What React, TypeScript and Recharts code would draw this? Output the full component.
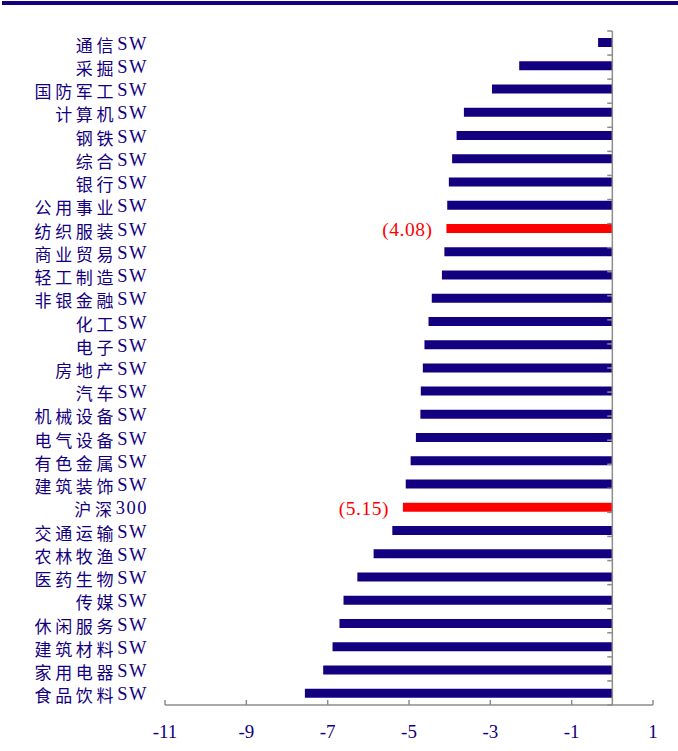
import React from "react"
import { Bar, BarChart, Cell, LabelList, ReferenceLine, XAxis, YAxis } from "recharts"

const categories = [
  "通信SW", "采掘SW", "国防军工SW", "计算机SW", "钢铁SW", "综合SW", "银行SW", "公用事业SW",
  "纺织服装SW", "商业贸易SW", "轻工制造SW", "非银金融SW", "化工SW", "电子SW", "房地产SW",
  "汽车SW", "机械设备SW", "电气设备SW", "有色金属SW", "建筑装饰SW", "沪深300", "交通运输SW",
  "农林牧渔SW", "医药生物SW", "传媒SW", "休闲服务SW", "建筑材料SW", "家用电器SW", "食品饮料SW",
]

const values = [
  -0.35, -2.29, -2.96, -3.65, -3.83, -3.94, -4.02, -4.06,
  -4.08, -4.13, -4.19, -4.44, -4.52, -4.62, -4.66,
  -4.71, -4.72, -4.83, -4.96, -5.08, -5.15, -5.41,
  -5.87, -6.27, -6.61, -6.71, -6.88, -7.11, -7.56,
]

const highlighted = ["纺织服装SW", "沪深300"]
const xTicks = [-11, -9, -7, -5, -3, -1, 1]
// boundaries between category rows, for the small ticks on the zero axis
const rowEdges = Array.from({ length: categories.length + 1 }, (_, i) => i)

const data = categories.map((name, i) => ({ name, value: values[i] }))

const NAVY = "#130080"
const RED = "#ff0000"
const GRAY = "#8c8c8c"
const SERIF = "'Liberation Serif', 'Times New Roman', serif"
const CJK = "'Noto Sans CJK SC', sans-serif"

function CategoryTick(props: any) {
  const { x, y, payload } = props
  const s: string = payload.value
  const m = s.match(/^([^\x00-\x7f]*)(.*)$/)
  const cjk = m ? m[1] : ""
  const rest = m ? m[2] : s
  return (
    <text x={x} y={y + 1} textAnchor="end" dominantBaseline="central" fill={NAVY}>
      <tspan fontFamily={CJK} letterSpacing={3.7} fontSize={17}>{cjk}</tspan>
      <tspan fontFamily={SERIF} fontSize={18.5} letterSpacing={1.5}>{rest}</tspan>
    </text>
  )
}

function ValueTick(props: any) {
  const { x, y, payload } = props
  return (
    <g>
      <line x1={x} x2={x} y1={y} y2={y - 5} stroke={GRAY} strokeWidth={1.5} />
      <text x={x} y={y + 33} textAnchor="middle" fill={NAVY} fontSize={19} fontFamily={SERIF}>
        {payload.value}
      </text>
    </g>
  )
}

function HighlightLabel(props: any) {
  const { x, y, width, height, value, index } = props
  if (!highlighted.includes(categories[index])) return null
  const left = Math.min(x, x + width)
  return (
    <text x={left - 14} y={y + height / 2 + 1} textAnchor="end" dominantBaseline="central"
      fill={RED} fontSize={19.5} fontFamily={SERIF} letterSpacing={0.5}>
      ({Math.abs(value).toFixed(2)})
    </text>
  )
}

export default function App() {
  return (
    <div style={{ position: "absolute", left: 0, top: 0, width: 678, height: 751, background: "#fff" }}>
      <div style={{ position: "absolute", left: 2, top: 1, width: 676, height: 4, background: NAVY }} />
      <BarChart
        width={678}
        height={751}
        data={data}
        layout="vertical"
        margin={{ top: 31, right: 25, bottom: 16, left: 0 }}
        barSize={9}
      >
        <XAxis
          type="number"
          domain={[-11, 1]}
          ticks={xTicks}
          interval={0}
          height={30}
          axisLine={{ stroke: GRAY, strokeWidth: 1.5 }}
          tickLine={false}
          tickSize={0}
          tickMargin={0}
          tick={<ValueTick />}
        />
        <YAxis
          type="category"
          dataKey="name"
          width={165}
          axisLine={false}
          tickLine={false}
          tickSize={0}
          tickMargin={17}
          interval={0}
          tick={<CategoryTick />}
        />
        <YAxis yAxisId="rows" type="number" domain={[0, categories.length]} hide />
        <ReferenceLine x={0} stroke={GRAY} strokeWidth={1.5} />
        {rowEdges.map((r) => (
          <ReferenceLine
            key={r}
            yAxisId="rows"
            segment={[{ x: -0.125, y: r }, { x: 0, y: r }]}
            stroke={GRAY}
            strokeWidth={1.5}
          />
        ))}
        <Bar dataKey="value" isAnimationActive={false}>
          {data.map((d) => (
            <Cell key={d.name} fill={highlighted.includes(d.name) ? RED : NAVY} />
          ))}
          <LabelList dataKey="value" content={<HighlightLabel />} />
        </Bar>
      </BarChart>
    </div>
  )
}
